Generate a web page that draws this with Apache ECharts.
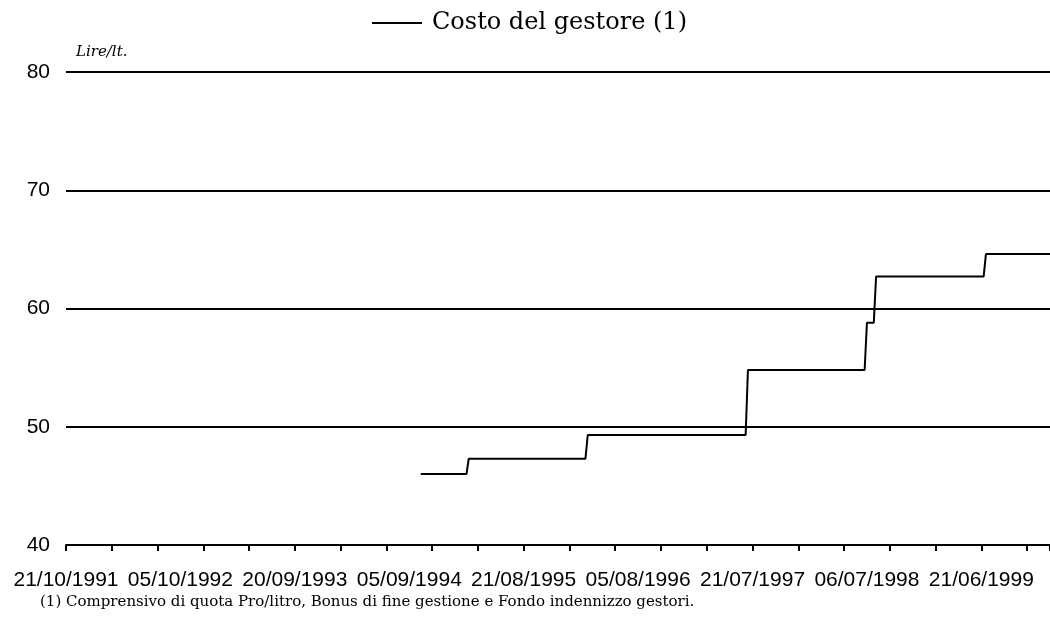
<!DOCTYPE html>
<html>
<head>
<meta charset="utf-8">
<script src="https://cdn.jsdelivr.net/npm/echarts@6/dist/echarts.min.js"></script>
<style>
  html, body { margin: 0; padding: 0; background: #fff; }
  #chart { width: 1050px; height: 619px; }
</style>
</head>
<body>
<div id="chart"></div>
<script>
// weeks counted from 21/10/1991 (week 0), one label every 50 weeks
const tickLabels = ['21/10/1991', '05/10/1992', '20/09/1993', '05/09/1994', '21/08/1995',
                    '05/08/1996', '21/07/1997', '06/07/1998', '21/06/1999'];
const weeks = [155, 175, 176, 227, 228, 297, 298, 349, 350, 353, 354, 401, 402, 430];
const costo = [46.0, 46.0, 47.3, 47.3, 49.3, 49.3, 54.8, 54.8, 58.8, 58.8, 62.7, 62.7, 64.6, 64.6];
const lastWeek = 430;

const serif = 'DejaVu Serif';
const sans = 'Liberation Sans';

const chart = echarts.init(document.getElementById('chart'));

chart.setOption({
    animation: false,
    backgroundColor: '#fff',
    grid: { left: 66, right: 0, top: 72, bottom: 74, outerBoundsMode: 'none', containLabel: false },
    legend: {
        left: 367,
        top: 6,
        icon: 'rect',
        itemWidth: 50,
        itemHeight: 2,
        itemStyle: { color: '#000' },
        textStyle: { fontFamily: serif, fontSize: 24, color: '#000', padding: [0, 0, 0, 5] },
        data: ['Costo del gestore (1)']
    },
    xAxis: [{
        type: 'value',
        position: 'bottom',
        min: 0,
        max: lastWeek,
        interval: 50,
        splitLine: { show: false },
        axisLine: { show: true, lineStyle: { color: '#000', width: 2 } },
        axisTick: { show: false },
        axisLabel: {
            margin: 25,
            fontFamily: sans,
            fontSize: 21,
            color: '#000',
            formatter: v => (v % 50 === 0 ? (tickLabels[v / 50] || '') : '')
        }
    }, {
        type: 'value',
        position: 'bottom',
        min: 0,
        max: lastWeek,
        interval: 20,
        splitLine: { show: false },
        axisLine: { show: false },
        axisLabel: { show: false },
        axisTick: { show: true, length: 6, lineStyle: { color: '#000', width: 2 } }
    }],
    yAxis: {
        type: 'value',
        min: 40,
        max: 80,
        interval: 10,
        axisLine: { show: false },
        axisTick: { show: false },
        axisLabel: { margin: 16, fontFamily: sans, fontSize: 21, color: '#000' },
        splitLine: { lineStyle: { color: '#000', width: 2 } }
    },
    graphic: [{
        type: 'text',
        left: 76,
        top: 45,
        style: { text: 'Lire/lt.', font: 'italic 15px "DejaVu Serif"', fill: '#000' }
    }, {
        type: 'text',
        left: 40,
        top: 595,
        style: {
            text: '(1) Comprensivo di quota Pro/litro, Bonus di fine gestione e Fondo indennizzo gestori.',
            font: '15px "DejaVu Serif"',
            fill: '#000'
        }
    }],
    series: [{
        name: 'Costo del gestore (1)',
        type: 'line',
        xAxisIndex: 0,
        symbol: 'none',
        lineStyle: { color: '#000', width: 2 },
        data: weeks.map((w, i) => [w, costo[i]])
    }]
});
</script>
</body>
</html>
